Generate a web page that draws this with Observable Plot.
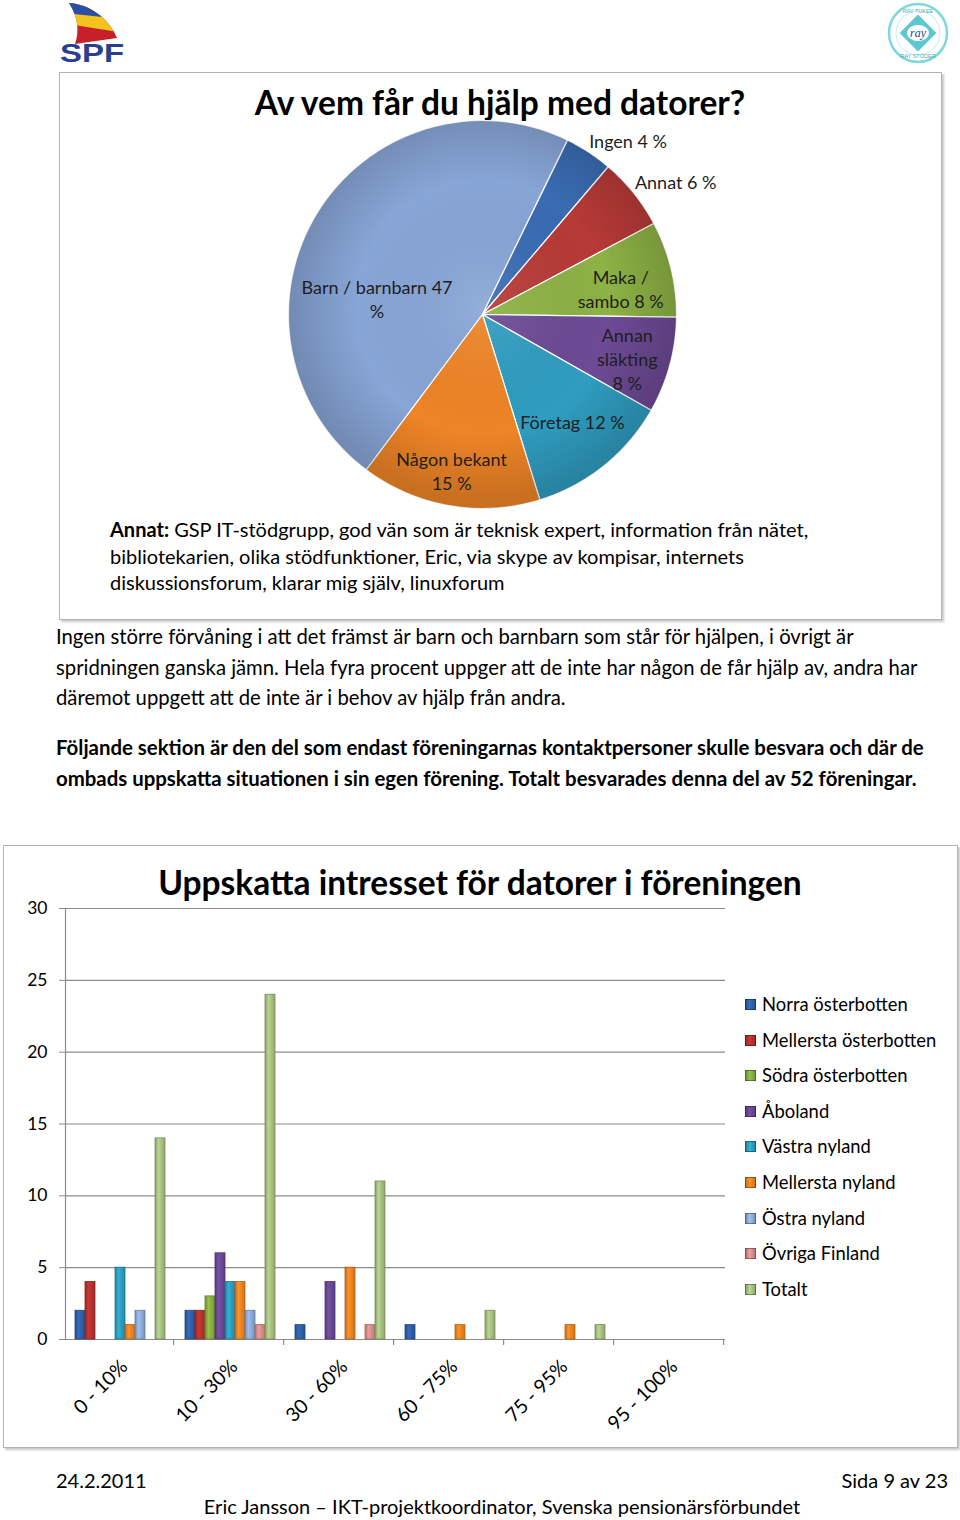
<!DOCTYPE html>
<html><head><meta charset="utf-8">
<script src="https://cdn.jsdelivr.net/npm/d3@7"></script>
<script src="https://cdn.jsdelivr.net/npm/@observablehq/plot@0.6"></script>
<style>
body{margin:0;background:#fff;font-family:Lato,sans-serif;color:#000}
#page{position:relative;width:960px;height:1520px;overflow:hidden;background:#fff}
.abs{position:absolute}
.box{position:absolute;border:1px solid #b3b3b3;box-shadow:2px 2px 2px rgba(0,0,0,0.22);background:#fff;box-sizing:border-box}
.txt{position:absolute;white-space:nowrap;font-size:20px}
.title{position:absolute;text-align:center;font-weight:700;font-size:33.5px;line-height:1.2;white-space:nowrap}
.legend-item{position:absolute;left:745px;font-size:18.4px;line-height:22px;white-space:nowrap}
.legend-item span.sw{position:absolute;left:0;top:6px;width:9px;height:9px;border:1px solid rgba(0,0,0,0.35)}
.legend-item span.lb{position:absolute;left:17px;top:0}
</style></head>
<body><div id="page">

<!-- SPF logo -->
<svg class="abs" style="left:55px;top:0" width="80" height="68" viewBox="0 0 80 68">
  <defs><clipPath id="sail"><path d="M14 3 C34 4 54 18 62 38 L20 44 C25 30 22 15 14 3 Z"/></clipPath></defs>
  <g clip-path="url(#sail)">
    <rect x="0" y="0" width="76" height="50" fill="#c8202a"/>
    <path d="M0 0 H76 V34 L0 22 Z" fill="#f4c31c"/>
    <path d="M0 0 H76 V20 L0 12 Z" fill="#2a4fa3"/>
  </g>
  <text x="5" y="62" textLength="64" lengthAdjust="spacingAndGlyphs" font-family="Liberation Sans, Arial, sans-serif" font-weight="700" font-size="26" fill="#2b3f91">SPF</text>
</svg>

<!-- RAY logo -->
<svg class="abs" style="left:886px;top:1px" width="64" height="64" viewBox="0 0 64 64">
  <circle cx="32" cy="32" r="29" fill="#fff" stroke="#7fd8dc" stroke-width="2.5"/>
  <circle cx="32" cy="32" r="22" fill="none" stroke="#bdeff0" stroke-width="1"/>
  <rect x="19" y="19" width="26" height="26" fill="#5cc9cf" transform="rotate(45 32 32)"/>
  <ellipse cx="32" cy="32" rx="11" ry="8" fill="#fff"/>
  <text x="32" y="36" text-anchor="middle" font-family="Liberation Serif, serif" font-style="italic" font-size="12" fill="#2b3f91">ray</text>
  <text x="32" y="12" text-anchor="middle" font-family="Liberation Sans, sans-serif" font-size="5.5" fill="#4aaeb4">RAY TUKEE</text>
  <text x="32" y="57" text-anchor="middle" font-family="Liberation Sans, sans-serif" font-size="5.5" fill="#4aaeb4">RAY STÖDER</text>
</svg>

<div class="box" style="left:59px;top:72px;width:883px;height:548px"></div>
<div class="title" style="left:100px;width:800px;top:82px">Av vem får du hjälp med datorer?</div>
<div id="pie" class="abs" style="left:0;top:100px"></div>

<div class="txt" style="left:110px;top:516px;line-height:26.5px">
<b>Annat:</b> GSP IT-stödgrupp, god vän som är teknisk expert, information från nätet,<br>
bibliotekarien, olika stödfunktioner, Eric, via skype av kompisar, internets<br>
diskussionsforum, klarar mig själv, linuxforum
</div>

<div class="txt" style="left:56px;top:621px;line-height:30.5px;font-size:20.3px">
Ingen större förvåning i att det främst är barn och barnbarn som står för hjälpen, i övrigt är<br>
spridningen ganska jämn. Hela fyra procent uppger att de inte har någon de får hjälp av, andra har<br>
däremot uppgett att de inte är i behov av hjälp från andra.
</div>

<div class="txt" style="left:56px;top:732px;line-height:30.5px;font-weight:700;font-size:20.4px">
Följande sektion är den del som endast föreningarnas kontaktpersoner skulle besvara och där de<br>
ombads uppskatta situationen i sin egen förening. Totalt besvarades denna del av 52 föreningar.
</div>

<div class="box" style="left:3px;top:845px;width:955px;height:603px"></div>
<div class="title" style="left:80px;width:800px;top:862px">Uppskatta intresset för datorer i föreningen</div>
<div id="bars" class="abs" style="left:0;top:890px"></div>
<div id="legend"></div>

<div class="txt" style="left:56px;top:1468px">24.2.2011</div>
<div class="txt" style="right:12px;top:1468px">Sida 9 av 23</div>
<div class="txt" style="left:0;width:1004px;text-align:center;top:1494px">Eric Jansson – IKT-projektkoordinator, Svenska pensionärsförbundet</div>

</div>
<script>
// ---------- Pie data ----------
const pieNames = ["Barn / barnbarn", "Ingen", "Annat", "Maka / sambo", "Annan släkting", "Företag", "Någon bekant"];
const pieValues = [47, 4, 6, 8, 8, 12, 15];
const pieLabelTemplates = ["Barn / barnbarn {v}\n%", "Ingen {v} %", "Annat {v} %", "Maka /\nsambo {v} %", "Annan\nsläkting\n{v} %", "Företag {v} %", "Någon bekant\n{v} %"];
const pieColors = ["#87a5d6", "#3a6cb3", "#b73a37", "#8db244", "#6d4a95", "#2f9dc0", "#ee8426"];

// ---------- Bar data ----------
const categories = ["0 - 10%", "10 - 30%", "30 - 60%", "60 - 75%", "75 - 95%", "95 - 100%"];
const regions = ["Norra österbotten", "Mellersta österbotten", "Södra österbotten", "Åboland", "Västra nyland", "Mellersta nyland", "Östra nyland", "Övriga Finland", "Totalt"];
const norraOsterbotten     = [2, 2, 1, 1, 0, 0];
const mellerstaOsterbotten = [4, 2, 0, 0, 0, 0];
const sodraOsterbotten     = [0, 3, 0, 0, 0, 0];
const aboland              = [0, 6, 4, 0, 0, 0];
const vastraNyland         = [5, 4, 0, 0, 0, 0];
const mellerstaNyland      = [1, 4, 5, 1, 1, 0];
const ostraNyland          = [2, 2, 0, 0, 0, 0];
const ovrigaFinland        = [0, 1, 1, 0, 0, 0];
const totalt               = [14, 24, 11, 2, 1, 0];
const yTicks = [0, 5, 10, 15, 20, 25, 30];
const regionColors = ["#2f62aa", "#b8322f", "#88b03e", "#6a4997", "#2ea0c0", "#f08624", "#8eaddb", "#d98f8d", "#a9c383"];

// ---------- gradient defs ----------
const defsSvg = d3.select("#page").append("svg").attr("width", 0).attr("height", 0).style("position", "absolute");
const defs = defsSvg.append("defs");
regionColors.forEach((c, i) => {
  const g = defs.append("linearGradient").attr("id", "bg" + i).attr("x1", 0).attr("x2", 1).attr("y1", 0).attr("y2", 0);
  g.append("stop").attr("offset", "0%").attr("stop-color", d3.color(c).darker(0.55));
  g.append("stop").attr("offset", "35%").attr("stop-color", d3.color(c).brighter(0.25));
  g.append("stop").attr("offset", "100%").attr("stop-color", d3.color(c).darker(0.45));
});
const rg = defs.append("radialGradient").attr("id", "pieShade").attr("cx", "50%").attr("cy", "48%").attr("r", "50%");
rg.append("stop").attr("offset", "0%").attr("stop-color", "#fff").attr("stop-opacity", 0.10);
rg.append("stop").attr("offset", "65%").attr("stop-color", "#000").attr("stop-opacity", 0);
rg.append("stop").attr("offset", "100%").attr("stop-color", "#000").attr("stop-opacity", 0.16);

// ---------- Pie chart ----------
const pieStart = 216.8; // degrees clockwise from 12 o'clock
const pieLabelPlacement = { // [radius fraction, angle offset deg]
  "Barn / barnbarn": [0.55, -22.8],
  "Ingen": [1.17, 6.7],
  "Annat": [1.21, 4.2],
  "Maka / sambo": [0.725, 3],
  "Annan släkting": [0.78, 1.7],
  "Företag": [0.72, -1.3],
  "Någon bekant": [0.82, 1.4]
};
const pieTotal = d3.sum(pieValues);
let acc = pieStart;
const slices = pieNames.map((name, i) => {
  const a0 = acc, a1 = acc + pieValues[i] / pieTotal * 360; acc = a1;
  const n = Math.max(2, Math.ceil(a1 - a0));
  const pts = [[0, 0]];
  for (let k = 0; k <= n; k++) {
    const a = (a0 + (a1 - a0) * k / n) * Math.PI / 180;
    pts.push([Math.sin(a), Math.cos(a)]);
  }
  pts.push([0, 0]);
  const [rf, da] = pieLabelPlacement[name];
  const am = ((a0 + a1) / 2 + da) * Math.PI / 180;
  return {
    name, value: pieValues[i], color: pieColors[i],
    geometry: {type: "Polygon", coordinates: [pts]},
    lx: rf * Math.sin(am), ly: rf * Math.cos(am),
    label: pieLabelTemplates[i].replace("{v}", pieValues[i])
  };
});
const circlePts = d3.range(0, 361, 2).map(a => [Math.sin(a * Math.PI / 180), Math.cos(a * Math.PI / 180)]);

const pie = Plot.plot({
  width: 960, height: 430, margin: 0,
  style: {fontFamily: "Lato, sans-serif", background: "transparent", overflow: "visible"},
  projection: d3.geoIdentity().reflectY(true).scale(194).translate([482, 214]),
  marks: [
    Plot.geo(slices, {geometry: "geometry", fill: d => d.color, stroke: "#fff", strokeWidth: 1.2}),
    Plot.geo([{type: "Polygon", coordinates: [circlePts]}], {fill: "url(#pieShade)"}),
    Plot.text(slices, {x: "lx", y: "ly", text: "label", fontSize: 18, lineHeight: 1.33, fill: "#1e1e1e", textAnchor: "middle"})
  ]
});
document.getElementById("pie").appendChild(pie);

// ---------- Bar chart ----------
const seriesValues = [norraOsterbotten, mellerstaOsterbotten, sodraOsterbotten, aboland, vastraNyland, mellerstaNyland, ostraNyland, ovrigaFinland, totalt];
const barData = [];
regions.forEach((r, i) => seriesValues[i].forEach((v, j) => {
  if (v > 0) barData.push({cat: categories[j], region: r, value: v, color: regionColors[i]});
}));
const bw = 110 / (regions.length + 1.5);

const bars = Plot.plot({
  width: 960, height: 560,
  marginLeft: 64, marginRight: 234, marginTop: 18, marginBottom: 111,
  style: {fontFamily: "Lato, sans-serif", fontSize: "16px", color: "#000", background: "transparent", overflow: "visible"},
  fx: {domain: categories, padding: 0, label: null},
  x: {domain: regions, paddingInner: 0, paddingOuter: 0.75, axis: null},
  y: {domain: [0, 30], label: null},
  color: {domain: regions, range: regions.map((_, i) => `url(#bg${i})`)},
  marks: [
    Plot.gridY({ticks: yTicks, stroke: "#8c8c8c", strokeOpacity: 1, strokeWidth: 1.2}),
    Plot.frame({anchor: "left", facetAnchor: "left", stroke: "#8c8c8c", strokeWidth: 1.2}),
    Plot.axisY({ticks: yTicks, tickSize: 6, tickPadding: 12, stroke: "#8c8c8c", fill: "#000", fontSize: 17.5, label: null}),
    Plot.ruleX(categories.map(c => ({cat: c})), {fx: "cat", x: () => regions[regions.length - 1], dx: bw * 1.25, y1: 0, y2: -0.42, stroke: "#8c8c8c", strokeWidth: 1.2}),
    Plot.barY(barData, {fx: "cat", x: "region", y: "value", fill: "region", stroke: d => d3.color(d.color).darker(0.9).formatHex(), strokeWidth: 0.8}),
    Plot.axisFx({anchor: "bottom", tickRotate: -45, tickSize: 0, tickPadding: 24, dx: 4, fontSize: 19.5, fill: "#000", label: null})
  ]
});
document.getElementById("bars").appendChild(bars);

// legend
const leg = d3.select("#legend");
regions.forEach((r, i) => {
  const c = regionColors[i];
  const item = leg.append("div").attr("class", "legend-item").style("top", (993 + i * 35.6) + "px");
  item.append("span").attr("class", "sw")
    .style("background", `linear-gradient(90deg, ${d3.color(c).darker(0.5)}, ${d3.color(c).brighter(0.3)} 40%, ${d3.color(c).darker(0.4)})`);
  item.append("span").attr("class", "lb").text(r);
});
</script>
</body></html>
